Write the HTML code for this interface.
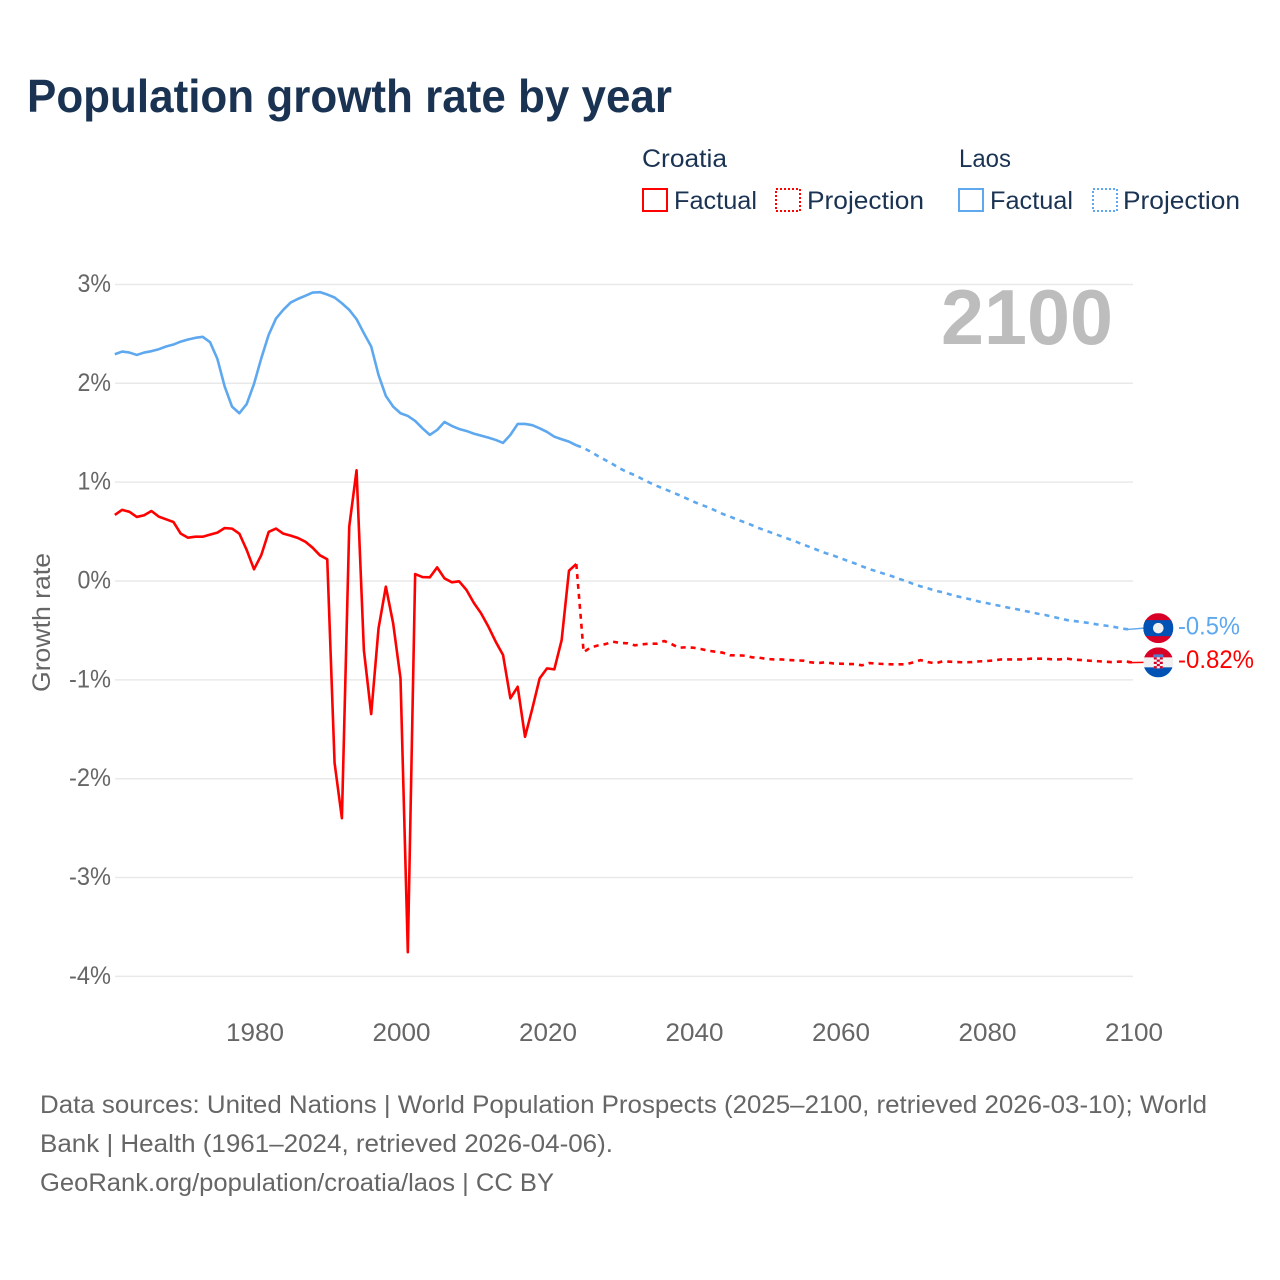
<!DOCTYPE html>
<html lang="en">
<head>
<meta charset="utf-8">
<title>Population growth rate by year</title>
<style>
html,body{margin:0;padding:0;background:#fff;}
svg{display:block;font-family:"Liberation Sans",sans-serif;}
</style>
</head>
<body>
<svg id="chart" width="1280" height="1280" viewBox="0 0 1280 1280" xmlns="http://www.w3.org/2000/svg">
  <rect x="0" y="0" width="1280" height="1280" fill="#ffffff"/>
  <text x="27" y="112" font-size="46" font-weight="700" fill="#1a3353" textLength="645" lengthAdjust="spacingAndGlyphs">Population growth rate by year</text>

  <g font-size="25" fill="#1a3353">
    <text x="642" y="167" textLength="85" lengthAdjust="spacingAndGlyphs">Croatia</text>
    <text x="959" y="167" textLength="52" lengthAdjust="spacingAndGlyphs">Laos</text>
    <rect x="643" y="189" width="24" height="22" fill="none" stroke="#ff0000" stroke-width="2"/>
    <text x="674" y="209" textLength="83" lengthAdjust="spacingAndGlyphs">Factual</text>
    <rect x="776" y="189" width="24" height="22" fill="none" stroke="#ff0000" stroke-width="2" stroke-dasharray="2 2"/>
    <text x="807" y="209" textLength="117" lengthAdjust="spacingAndGlyphs">Projection</text>
    <rect x="959" y="189" width="24" height="22" fill="none" stroke="#5ea8ef" stroke-width="2"/>
    <text x="990" y="209" textLength="83" lengthAdjust="spacingAndGlyphs">Factual</text>
    <rect x="1093" y="189" width="24" height="22" fill="none" stroke="#5ea8ef" stroke-width="2" stroke-dasharray="2 2"/>
    <text x="1123" y="209" textLength="117" lengthAdjust="spacingAndGlyphs">Projection</text>
  </g>

  <g id="grid"></g>
  <g id="y-ticks"></g>
  <g id="x-ticks"></g>
  <text transform="translate(50,622.5) rotate(-90)" text-anchor="middle" font-size="25" fill="#666666" textLength="139" lengthAdjust="spacingAndGlyphs">Growth rate</text>
  <text id="year-watermark" x="1113" y="344" text-anchor="end" font-size="78" font-weight="700" fill="#bdbdbd" textLength="172" lengthAdjust="spacingAndGlyphs">2100</text>
  <g id="series"></g>

  <defs>
    <clipPath id="flag-clip"><circle cx="0" cy="0" r="15"/></clipPath>
  </defs>
  <g id="flag-laos">
    <g clip-path="url(#flag-clip)">
      <rect x="-15" y="-15" width="30" height="30" fill="#d80027"/>
      <rect x="-15" y="-8" width="30" height="16" fill="#0052b4"/>
      <circle cx="0" cy="0" r="5.3" fill="#f0f0f0"/>
    </g>
  </g>
  <g id="flag-croatia">
    <g clip-path="url(#flag-clip)">
      <rect x="-15" y="-15" width="30" height="30" fill="#f0f0f0"/>
      <rect x="-15" y="-15" width="30" height="10" fill="#d80027"/>
      <rect x="-15" y="5" width="30" height="10" fill="#0052b4"/>
      <path d="M-5 -8h10v3h-10z" fill="#4f7fd0"/>
      <rect x="-4.5" y="-5" width="9" height="11" fill="#f4f4f4"/>
      <path d="M-4.5 -5h3v2.2h-3zM1.5 -5h3v2.2h-3zM-1.5 -2.8h3v2.2h-3zM-4.5 -0.6h3v2.2h-3zM1.5 -0.6h3v2.2h-3zM-1.5 1.6h3v2.2h-3zM-4.5 3.8h3v2.2h-3zM1.5 3.8h3v2.2h-3z" fill="#d80027"/>
    </g>
  </g>
  <text id="label-laos" x="1178" font-size="25" fill="#5ea8ef"></text>
  <text id="label-croatia" x="1178" font-size="25" fill="#ff0000"></text>

  <g font-size="25" fill="#666666">
    <text x="40" y="1113" textLength="1167" lengthAdjust="spacingAndGlyphs">Data sources: United Nations | World Population Prospects (2025–2100, retrieved 2026-03-10); World</text>
    <text x="40" y="1152" textLength="573" lengthAdjust="spacingAndGlyphs">Bank | Health (1961–2024, retrieved 2026-04-06).</text>
    <text x="40" y="1191" textLength="514" lengthAdjust="spacingAndGlyphs">GeoRank.org/population/croatia/laos | CC BY</text>
  </g>
</svg>
<script>
const xTicks = [1980, 2000, 2020, 2040, 2060, 2080, 2100];
const yTicks = [3, 2, 1, 0, -1, -2, -3, -4];
const factualStartYear = 1961;
const projectionStartYear = 2025;
const croatiaFactual = [0.668,0.72,0.70,0.648,0.665,0.708,0.651,0.624,0.597,0.479,0.438,0.448,0.448,0.469,0.489,0.536,0.53,0.479,0.314,0.118,0.263,0.496,0.53,0.479,0.459,0.435,0.398,0.337,0.26,0.22,-1.84,-2.40,0.55,1.12,-0.70,-1.346,-0.48,-0.057,-0.43,-0.985,-3.755,0.07,0.04,0.037,0.138,0.027,-0.013,-0.003,-0.09,-0.22,-0.327,-0.462,-0.614,-0.749,-1.187,-1.07,-1.576,-1.289,-0.985,-0.884,-0.894,-0.597,0.104,0.172];
const laosFactual = [2.294,2.321,2.311,2.287,2.311,2.325,2.345,2.372,2.392,2.422,2.443,2.46,2.47,2.416,2.247,1.967,1.764,1.697,1.79,1.994,2.254,2.49,2.655,2.743,2.817,2.854,2.885,2.918,2.922,2.898,2.868,2.81,2.743,2.649,2.507,2.372,2.085,1.872,1.764,1.697,1.67,1.619,1.545,1.478,1.528,1.609,1.569,1.538,1.518,1.491,1.471,1.45,1.427,1.397,1.478,1.589,1.589,1.576,1.545,1.508,1.46,1.434,1.41,1.373];
const croatiaProjection = [-0.719,-0.671,-0.651,-0.638,-0.614,-0.627,-0.63,-0.651,-0.641,-0.634,-0.634,-0.607,-0.638,-0.675,-0.671,-0.675,-0.688,-0.705,-0.715,-0.725,-0.752,-0.752,-0.755,-0.772,-0.776,-0.789,-0.793,-0.793,-0.80,-0.803,-0.806,-0.823,-0.83,-0.823,-0.833,-0.836,-0.84,-0.84,-0.853,-0.83,-0.836,-0.84,-0.843,-0.843,-0.843,-0.823,-0.80,-0.82,-0.833,-0.813,-0.816,-0.82,-0.823,-0.82,-0.813,-0.81,-0.803,-0.793,-0.793,-0.793,-0.793,-0.786,-0.786,-0.786,-0.793,-0.793,-0.786,-0.796,-0.80,-0.806,-0.81,-0.816,-0.82,-0.816,-0.813,-0.826];
const laosProjection = [1.346,1.306,1.262,1.222,1.181,1.137,1.10,1.07,1.032,0.995,0.962,0.931,0.901,0.87,0.837,0.803,0.772,0.746,0.712,0.678,0.651,0.62,0.594,0.564,0.533,0.506,0.479,0.452,0.425,0.398,0.367,0.341,0.311,0.283,0.26,0.233,0.205,0.179,0.149,0.121,0.098,0.074,0.051,0.023,0,-0.03,-0.054,-0.074,-0.098,-0.114,-0.135,-0.155,-0.172,-0.189,-0.209,-0.223,-0.24,-0.253,-0.27,-0.283,-0.30,-0.314,-0.331,-0.344,-0.361,-0.378,-0.395,-0.405,-0.415,-0.425,-0.438,-0.449,-0.459,-0.473,-0.486,-0.49];
const endLabelLaos = "-0.5%";
const endLabelCroatia = "-0.82%";

const SVGNS = "http://www.w3.org/2000/svg";
const scaleX = (year) => 254 + (year - 1980) * 7.325;
const tickX = (year) => 255 + (year - 1980) * 7.325;
const scaleY = (value) => 581 - value * 98.85;

function make(tag, parent) {
  const el = document.createElementNS(SVGNS, tag);
  parent.appendChild(el);
  return el;
}

function tickWidth(label) {
  let w = 0;
  for (const c of label) w += c === "-" ? 8.5 : c === "%" ? 19 : 14.5;
  return w;
}

const gridLayer = document.getElementById("grid");
const yLayer = document.getElementById("y-ticks");
const xLayer = document.getElementById("x-ticks");
const seriesLayer = document.getElementById("series");

yTicks.forEach((tick) => {
  const line = make("line", gridLayer);
  
  
  line.setAttribute("x1", 115);
  line.setAttribute("x2", 1133);
  line.setAttribute("y1", scaleY(tick));
  line.setAttribute("y2", scaleY(tick));
  line.setAttribute("stroke", "#e9e9e9");
  line.setAttribute("stroke-width", 1.5);

  const label = make("text", yLayer);
  
  
  const str = tick + "%";
  label.textContent = str;
  label.setAttribute("x", 111);
  label.setAttribute("y", scaleY(tick) + 7.5);
  label.setAttribute("text-anchor", "end");
  label.setAttribute("font-size", 25);
  label.setAttribute("fill", "#666666");
  label.setAttribute("textLength", tickWidth(str));
  label.setAttribute("lengthAdjust", "spacingAndGlyphs");
});

xTicks.forEach((tick) => {
  const label = make("text", xLayer);
  
  
  label.textContent = tick;
  label.setAttribute("x", tickX(tick));
  label.setAttribute("y", 1041);
  label.setAttribute("text-anchor", "middle");
  label.setAttribute("font-size", 25);
  label.setAttribute("fill", "#666666");
  label.setAttribute("textLength", 58);
  label.setAttribute("lengthAdjust", "spacingAndGlyphs");
});

function pathFrom(startYear, values, prefix) {
  const parts = [];
  if (prefix) parts.push(scaleX(prefix[0]).toFixed(2) + "," + scaleY(prefix[1]).toFixed(2));
  values.forEach((v, i) => {
    parts.push(scaleX(startYear + i).toFixed(2) + "," + scaleY(v).toFixed(2));
  });
  return "M" + parts.join("L");
}

function drawLine(d, color, dashed) {
  const path = make("path", seriesLayer);
  path.setAttribute("d", d);
  path.setAttribute("fill", "none");
  path.setAttribute("stroke", color);
  path.setAttribute("stroke-width", 2.6);
  path.setAttribute("stroke-linejoin", "round");
  if (dashed) path.setAttribute("stroke-dasharray", "5 5");
  return path;
}

const laosFactualPath = drawLine(pathFrom(factualStartYear, laosFactual), "#5ea8ef", false);



const croatiaFactualPath = drawLine(pathFrom(factualStartYear, croatiaFactual), "#ff0000", false);



const laosProjectionPath = drawLine(pathFrom(projectionStartYear, laosProjection, [projectionStartYear - 1, laosFactual[laosFactual.length - 1]]), "#5ea8ef", true);



const croatiaProjectionPath = drawLine(pathFrom(projectionStartYear, croatiaProjection, [projectionStartYear - 1, croatiaFactual[croatiaFactual.length - 1]]), "#ff0000", true);



const laosEnd = laosProjection[laosProjection.length - 1];
const croatiaEnd = croatiaProjection[croatiaProjection.length - 1];
const flagX = 1158.3;
const laosFlagY = scaleY(laosEnd) - 1.3;
const croatiaFlagY = scaleY(croatiaEnd) - 0.3;

const laosLeader = make("line", seriesLayer);


laosLeader.setAttribute("x1", scaleX(2100) - 5);
laosLeader.setAttribute("x2", flagX - 14);
laosLeader.setAttribute("y1", scaleY(laosEnd));
laosLeader.setAttribute("y2", laosFlagY);
laosLeader.setAttribute("stroke", "#5ea8ef");
laosLeader.setAttribute("stroke-width", 1.5);

const croatiaLeader = make("line", seriesLayer);


croatiaLeader.setAttribute("x1", scaleX(2100) - 5);
croatiaLeader.setAttribute("x2", flagX - 14);
croatiaLeader.setAttribute("y1", scaleY(croatiaEnd));
croatiaLeader.setAttribute("y2", croatiaFlagY);
croatiaLeader.setAttribute("stroke", "#ff0000");
croatiaLeader.setAttribute("stroke-width", 1.5);

document.getElementById("flag-laos").setAttribute("transform", "translate(" + flagX + "," + laosFlagY + ")");
document.getElementById("flag-croatia").setAttribute("transform", "translate(" + flagX + "," + croatiaFlagY + ")");

const labelLaos = document.getElementById("label-laos");
labelLaos.textContent = endLabelLaos;
labelLaos.setAttribute("y", laosFlagY + 6.5);
labelLaos.setAttribute("textLength", 62);
labelLaos.setAttribute("lengthAdjust", "spacingAndGlyphs");

const labelCroatia = document.getElementById("label-croatia");
labelCroatia.textContent = endLabelCroatia;
labelCroatia.setAttribute("y", croatiaFlagY + 5.5);
labelCroatia.setAttribute("textLength", 76);
labelCroatia.setAttribute("lengthAdjust", "spacingAndGlyphs");
</script>
</body>
</html>
